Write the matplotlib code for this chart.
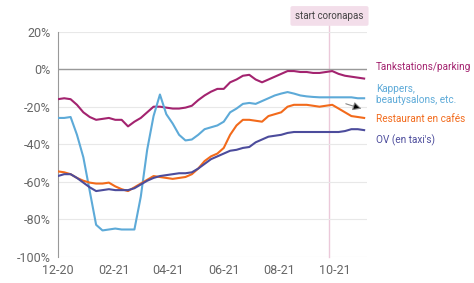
import numpy as np
import pandas as pd
import matplotlib
matplotlib.use('Agg')
import matplotlib.pyplot as plt
import matplotlib.dates as mdates

plt.rcParams['font.family'] = ['Roboto', 'DejaVu Sans']

# weekly observations, starting 1 Dec 2020
dates = pd.date_range('2020-12-01', periods=49, freq='7D')

tankstations = [-16, -15.5, -16, -19, -23, -25.5, -27, -26.5, -26, -27,
                -27, -30.5, -28, -26, -23, -20, -20, -20.5, -21, -21,
                -20.5, -19.5, -16.5, -14, -12, -10.5, -10.5, -7, -5.5, -3.5,
                -3, -5.5, -7, -5.5, -4, -2.5, -1, -1, -1.5, -1.5,
                -2, -2, -1.5, -1, -2.5, -3.5, -4, -4.5, -5]
kappers = [-26, -26, -25.5, -35, -47, -65, -83, -86, -85.5, -85,
           -85.5, -85.5, -85.5, -68, -43, -25, -13.5, -24, -29, -35,
           -38, -37.5, -35, -32, -31, -30, -28, -23, -21, -18.5,
           -18, -18.5, -17, -15.5, -14, -13, -12.2, -13, -14, -14.5,
           -14.8, -15, -15, -15, -15, -15, -15, -15.5, -15.5]
restaurants = [-54.5, -55, -56, -58, -59.5, -60.5, -61, -61, -60.5, -62.5,
               -64, -65, -63, -61, -59, -57, -57.5, -58, -58.5, -58,
               -57.5, -56, -53, -49, -46.5, -45, -42, -35, -30, -27,
               -27, -27.5, -28, -25, -24, -23, -20, -19, -19, -19,
               -19.5, -20, -19.5, -19, -21, -23, -25, -25.5, -26]
ov = [-57, -56, -56, -58, -60.5, -63, -65, -64.5, -64, -64.5,
      -64.5, -64.5, -63.5, -61.5, -59.5, -58, -57, -56.5, -56, -55.5,
      -55.5, -55, -53, -50.5, -48, -46.5, -45, -43.5, -43, -42,
      -41.5, -39, -37.5, -36, -35.5, -35, -34, -33.5, -33.5, -33.5,
      -33.5, -33.5, -33.5, -33.5, -33.5, -33, -32, -32, -32.5]

series_labels = ['Tankstations/parking', 'Kappers,\nbeautysalons, etc.',
                 'Restaurant en cafés', "OV (en taxi's)"]
colors = ['#A3236F', '#5DAAD8', '#F26A1B', '#4C4C9C']
label_y = [1, -13.5, -26.5, -38]

coronapas_date = pd.Timestamp('2021-09-25')

fig = plt.figure(figsize=(4.74, 2.83), dpi=100)
ax = fig.add_axes([0.122, 0.093, 0.652, 0.795])

for vals, c in zip([tankstations, kappers, restaurants, ov], colors):
    ax.plot(dates, vals, color=c, linewidth=1.5, zorder=3)

ax.set_ylim(-100, 20)
ax.set_yticks(np.arange(-100, 21, 20))
ax.yaxis.set_major_formatter(plt.FuncFormatter(lambda v, p: f'{v:.0f}%'))
ax.grid(axis='y', color='#e8e8e8', linewidth=0.8, zorder=0)
ax.axhline(0, color='#999999', linewidth=1.0, zorder=2)

ax.set_xlim(pd.Timestamp('2020-12-01'), pd.Timestamp('2021-11-05'))
ax.xaxis.set_major_locator(mdates.MonthLocator(bymonth=[12, 2, 4, 6, 8, 10]))
ax.xaxis.set_major_formatter(mdates.DateFormatter('%m-%y'))

for s in ['top', 'right', 'bottom']:
    ax.spines[s].set_visible(False)
ax.spines['left'].set_color('#999999')
ax.tick_params(length=0, labelsize=9, colors='#666666', pad=5)

# start coronapas marker
ax.axvline(coronapas_date, ymin=0, ymax=1.03, color='#EBC9DA', linewidth=1.0,
           clip_on=False, zorder=1)
ax.text(coronapas_date, 1.07, 'start coronapas', transform=ax.get_xaxis_transform(),
        ha='center', va='center', fontsize=7, color='#444444',
        bbox=dict(boxstyle='round,pad=0.5,rounding_size=0.2', fc='#F3DEEA', ec='none'))

# series labels on the right
for lab, c, y in zip(series_labels, colors, label_y):
    ax.text(1.03, y, lab, transform=ax.get_yaxis_transform(), ha='left', va='center',
            fontsize=7.2, color=c, linespacing=1.1)

ax.annotate('', xy=(pd.Timestamp('2021-11-02'), -21.5), xytext=(pd.Timestamp('2021-10-10'), -18),
            arrowprops=dict(arrowstyle='-|>,head_length=0.5,head_width=0.25',
                            fc='black', ec='#888888', lw=0.8))

fig.savefig('out.png', dpi=100)
